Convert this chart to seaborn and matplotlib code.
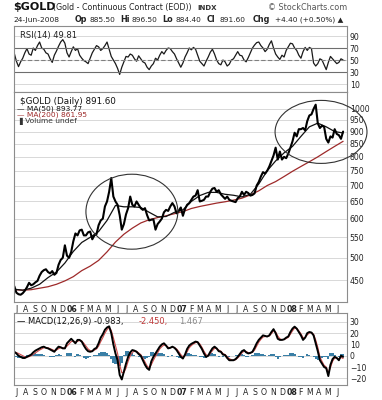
import pandas as pd
import matplotlib
matplotlib.use('Agg')
import matplotlib.pyplot as plt
import seaborn as sns
from matplotlib.patches import Ellipse

# weekly closes (Jun 2005 - Jun 2008)
price = [438,
         425, 422, 421, 424, 429, 436, 445, 440, 442, 446, 449, 460, 468, 472,
         474, 468, 465, 470, 462, 466, 484, 495, 500, 530, 505, 500, 514,
         540, 560, 555, 568, 570, 555, 555, 563, 565, 545, 555, 558, 582,
         595, 600, 635, 650, 680, 725, 665, 650, 640, 610, 570, 585, 612,
         630, 665, 640, 635, 650, 640, 630, 625, 630, 610, 595, 597, 598,
         570, 585, 592, 600, 618, 625, 622, 635, 645, 635, 615, 622, 632,
         608, 628, 640, 645, 655, 665, 668, 685, 650, 652, 655, 665, 665,
         680, 690, 692, 680, 685, 672, 665, 658, 665, 655, 652, 650, 648,
         660, 665, 680, 670, 680, 676, 668, 670, 675, 700, 712, 730, 745,
         740, 750, 765, 785, 805, 835, 790, 820, 790, 800, 795, 812, 835,
         860, 895, 880, 910, 910, 915, 905, 945, 970, 975, 1000, 1020, 935,
         915, 925, 920, 870, 855, 880, 875, 910, 890, 885, 870, 900]

# moving averages, one reading every 4 weeks
ma50 = [432, 430, 434, 442, 456, 468, 488, 515, 537, 550, 565, 595, 638, 634,
        634, 632, 618, 605, 606, 618, 625, 650, 668, 678, 678, 672, 669, 664,
        672, 705, 750, 785, 815, 840, 880, 920, 936, 920, 900, 894]
ma200 = [431, 430, 431, 434, 437, 442, 449, 458, 471, 481, 494, 514, 538, 558,
         574, 588, 597, 603, 608, 614, 620, 629, 635, 640, 645, 649, 654, 660,
         670, 683, 700, 713, 730, 748, 765, 782, 800, 820, 840, 860]

rsi = [61, 48, 39, 47, 53, 62, 69, 60, 58, 70, 66, 74, 80, 70, 68, 62, 60, 52,
       46, 58, 65, 73, 80, 84, 78, 62, 55, 64, 72, 66, 69, 58, 53, 49, 47, 44,
       53, 62, 68, 74, 72, 66, 69, 74, 80, 68, 56, 50, 44, 36, 26, 38, 47, 56,
       55, 60, 58, 52, 48, 57, 52, 47, 45, 38, 34, 40, 44, 53, 50, 58, 64, 60,
       66, 70, 69, 64, 60, 52, 45, 38, 45, 55, 62, 70, 67, 71, 68, 58, 48, 44,
       40, 48, 55, 63, 68, 60, 50, 44, 42, 50, 47, 40, 43, 50, 52, 58, 64, 58,
       57, 50, 47, 54, 62, 70, 75, 79, 80, 74, 70, 64, 68, 76, 82, 70, 60, 55,
       51, 58, 55, 66, 72, 78, 77, 70, 66, 58, 53, 64, 71, 66, 71, 69, 45, 40,
       44, 52, 50, 42, 34, 46, 56, 52, 48, 44, 46, 52, 50]

macd = [3.5, 2, 0, -1, -2, -2, -1, 0, 1, 3, 4.5, 5.5, 6.5, 7.5, 8, 7, 6.5, 5.5,
        4.5, 3.5, 6, 8, 7.5, 6.5, 6.5, 11, 13, 15, 13, 11, 14, 14, 12.5, 9, 6,
        4, 3.5, 4, 6, 7, 11, 16, 19, 23, 25, 26, 20, 10, 2, -4, -17, -21, -14,
        -7, -1, 3, 5, 4.5, 3.5, 1.5, 0, -4, -8, -11, -12.5, -5, -1, 2, 5, 8,
        10, 11, 9, 6.5, 7, 8, 7, 5, 2, -1, -2.5, 1, 6, 9, 10.5, 11.5, 12.5, 12,
        9, 6, 2, -1, 0, 3.5, 6.5, 8, 6.5, 4, 3.5, 1, 0.6, -2, -4, -4, -4, -3,
        -1, 1.5, 4, 5, 3, 2, 2.5, 3.5, 7, 11, 14, 16, 18, 17.5, 17, 18, 21,
        23.5, 20, 15, 14, 14, 14.5, 16, 17, 21, 24, 25.7, 24, 21, 18, 14, 16,
        20, 21, 20.5, 18, 11, 4, -4, -7, -10, -11, -18, -8, -3, -1, -2, -4, 0,
        -1]
signal = [3, 2.8, 2, 1, 0, -1, -1.2, -0.8, 0, 1.2, 2.5, 3.8, 5, 6, 7, 7.2, 7,
          6.3, 5.5, 4.5, 5, 6.2, 7, 7, 6.8, 8.5, 10.5, 12.5, 13, 12, 12.8, 13.5,
          13, 11, 8.5, 6, 4.5, 4, 5, 6, 8.5, 12.5, 16, 20, 23, 25, 22.5, 16, 9,
          2, -8, -15, -15, -11, -5, 0, 3, 4, 4, 2.5, 1, -2, -5.5, -9, -11, -8,
          -4, -0.5, 2.5, 6, 8, 9.5, 9, 7.5, 7, 7.5, 7.2, 6, 3.8, 1, -1, 0, 3.5,
          7, 9, 10.5, 11.5, 12, 10.5, 7.5, 4, 1, 0, 2, 4.5, 6.5, 6.5, 5, 4, 2,
          1, -0.8, -2.5, -3.5, -4, -3.5, -2, 0, 2.5, 4, 3.8, 2.8, 2.5, 3, 5,
          8.5, 12, 14.5, 16.5, 17, 17, 17.5, 19.5, 22, 21, 17.5, 15, 14.2, 14.3,
          15.2, 16.3, 19, 22, 24.5, 24.2, 22, 19.5, 16, 16, 18.5, 20, 20.5, 19,
          14, 7.5, -1, -5, -8.5, -10, -15, -10.5, -5, -2, -2, -3, -1.5, -2.45]
hist = [0.5, -0.8, -2, -2, -2, -1, 0.2, 0.8, 1, 1.8, 2, 1.7, 1.5, 1.5, 1,
        -0.2, -0.5, -0.8, -1, -1, 1, 1.8, 0.5, -0.5, -0.3, 2.5, 2.5, 2.5, 0,
        -1, 1.2, 0.5, -0.5, -2, -2.5, -2, -1, 0, 1, 1, 2.5, 3.5, 3, 3, 2, 1,
        -2.5, -6, -7, -6, -9, -6, 1, 4, 4, 3, 2, 0.5, -0.5, -1, -1, -2, -2.5,
        -2, -1.5, 3, 3, 2.5, 2.5, 2, 2, 1.5, 0, -1, 0, 0.5, -0.2, -1, -1.8, -2,
        -1.5, 1, 2.5, 2, 1.5, 1, 1, 0, -1.5, -1.5, -2, -2, 0, 1.5, 2, 1.5, 0,
        -1, -0.5, -1, -0.4, -1.2, -1.5, -0.5, 0, 0.5, 1, 1.5, 1.5, 1, -0.8,
        -0.8, 0, 0.5, 2, 2.5, 2, 1.5, 1.5, 0.5, 0, 0.5, 1.5, 1.5, -1, -2.5, -1,
        -0.2, 0.2, 0.8, 0.7, 2, 2, 1.2, -0.2, -1, -1.5, -2, 0, 1.5, 1, 0, -1,
        -3, -3.5, -3, -2, -1.5, -1, -3, 2.5, 2, 1, 0, -1, 1.5, 1.5]

price_ticks = [450, 500, 550, 600, 650, 700, 750, 800, 850, 900, 950, 1000]
rsi_ticks = [90, 70, 50, 30, 10]
macd_ticks = [30, 20, 10, 0, -10, -20]
month_letters = 'JFMAMJJASOND'

sns.set_style('white')
plt.rcParams['font.family'] = ['DejaVu Sans']

weeks = pd.date_range('2005-06-24', periods=len(price), freq='W-FRI')
df_price = pd.DataFrame({'date': weeks, 'close': price})
ma_dates = weeks[::4][:len(ma50)]
df_ma = pd.DataFrame({'date': ma_dates, 'ma50': ma50, 'ma200': ma200})
df_rsi = pd.DataFrame({'date': weeks[:len(rsi)], 'rsi': rsi})
df_macd = pd.DataFrame({'date': weeks[:len(macd)], 'macd': macd,
                        'signal': signal[:len(macd)], 'hist': hist[:len(macd)]})

months = pd.date_range('2005-07-01', '2008-06-01', freq='MS')
month_labels = ['%02d' % (m.year % 100) if m.month == 1 else month_letters[m.month - 1]
                for m in months]
quarters = pd.date_range('2005-10-01', '2008-04-01', freq='QS')
xmin, xmax = pd.Timestamp('2005-06-23'), pd.Timestamp('2008-07-03')

fig = plt.figure(figsize=(3.82, 4.0), dpi=100)
W, H = 382, 400
L, R = 14, 347


def add_panel(top, bottom):
    return fig.add_axes([L / W, 1 - bottom / H, (R - L) / W, (bottom - top) / H])


ax_rsi = add_panel(26, 92)
ax_p = add_panel(92, 302)
ax_m = add_panel(313, 385)

grid_c = '#d8d8d8'
for ax in (ax_rsi, ax_p, ax_m):
    ax.set_xlim(xmin, xmax)
    ax.set_xticks(months)
    ax.set_xticks(quarters, minor=True)
    ax.grid(which='minor', axis='x', color=grid_c, lw=0.7)
    ax.grid(which='major', axis='y', color=grid_c, lw=0.7)
    ax.grid(which='major', axis='x', visible=False)
    ax.yaxis.tick_right()
    ax.tick_params(which='both', length=0, labelsize=5.6, pad=2, colors='#222222')
    for s in ax.spines.values():
        s.set_color('#8c8c8c')
        s.set_linewidth(0.8)

# RSI panel
sns.lineplot(data=df_rsi, x='date', y='rsi', ax=ax_rsi, color='#1a1a1a', lw=0.9)
ax_rsi.axhline(70, color='#6e6e6e', lw=0.8)
ax_rsi.axhline(30, color='#6e6e6e', lw=0.8)
ax_rsi.axhline(50, color='#808080', lw=0.8, ls=(0, (4, 2)))
ax_rsi.set_ylim(-3.3, 106.7)
ax_rsi.set_yticks(rsi_ticks)
ax_rsi.set_xticklabels([])
ax_rsi.set_xlabel('')
ax_rsi.set_ylabel('')
ax_rsi.text(0.018, 0.93, 'RSI(14) 49.81', transform=ax_rsi.transAxes, fontsize=6,
            va='top', ha='left', color='#222222')

# price panel
ax_p.set_yscale('log')
sns.lineplot(data=df_ma, x='date', y='ma200', ax=ax_p, color='#9e2a2a', lw=0.9)
sns.lineplot(data=df_ma, x='date', y='ma50', ax=ax_p, color='#111111', lw=0.9)
sns.lineplot(data=df_price, x='date', y='close', ax=ax_p, color='#000000', lw=1.5)
ax_p.set_ylim(407, 1082)
ax_p.set_yticks(price_ticks)
ax_p.set_yticklabels([str(t) for t in price_ticks])
ax_p.yaxis.set_minor_locator(matplotlib.ticker.NullLocator())
ax_p.set_xticks(quarters, minor=True)
ax_p.grid(which='minor', axis='x', color=grid_c, lw=0.7)
ax_p.set_xticklabels(month_labels)
ax_p.set_xlabel('')
ax_p.set_ylabel('')
ax_p.text(0.018, 0.975, '$GOLD (Daily) 891.60', transform=ax_p.transAxes, fontsize=6.3,
          va='top', color='#111111')
ax_p.text(0.01, 0.935, '\u2014 MA(50) 893.77', transform=ax_p.transAxes, fontsize=5.4,
          va='top', color='#111111')
ax_p.text(0.01, 0.905, '\u2014 MA(200) 861.95', transform=ax_p.transAxes, fontsize=5.4,
          va='top', color='#9e2a2a')
ax_p.text(0.01, 0.875, '\u2590 Volume undef', transform=ax_p.transAxes, fontsize=5.4,
          va='top', color='#333333')
for (cx, cy, ew, eh) in [(0.354, 0.43, 0.276, 0.357), (0.922, 0.81, 0.276, 0.30)]:
    ax_p.add_patch(Ellipse((cx, cy), ew, eh, transform=ax_p.transAxes, fill=False,
                           ec='#333333', lw=0.8, clip_on=False, zorder=5))

# MACD panel
ax_m.bar(df_macd['date'], df_macd['hist'], width=7, color='#3a7fa6', lw=0)
sns.lineplot(data=df_macd, x='date', y='signal', ax=ax_m, color='#d04a4a', lw=0.8)
sns.lineplot(data=df_macd, x='date', y='macd', ax=ax_m, color='#000000', lw=1.4)
ax_m.set_ylim(-25.9, 37.8)
ax_m.set_yticks(macd_ticks)
ax_m.set_xticklabels(month_labels)
ax_m.set_xlabel('')
ax_m.set_ylabel('')
ax_m.text(0.01, 0.95, '\u2014 MACD(12,26,9) -0.983,', transform=ax_m.transAxes, fontsize=6,
          va='top', color='#111111')
ax_m.text(0.375, 0.95, '-2.450,', transform=ax_m.transAxes, fontsize=6, va='top', color='#c03a3a')
ax_m.text(0.495, 0.95, '1.467', transform=ax_m.transAxes, fontsize=6, va='top', color='#8a8a8a')

for ax in (ax_p, ax_m):
    for lab in ax.get_xticklabels():
        if lab.get_text().isdigit():
            lab.set_fontweight('bold')


# header
def ftext(x, y, s, **kw):
    fig.text(x / W, 1 - y / H, s, va='center', ha='left', **kw)


ftext(13, 7, '$GOLD', fontsize=8, fontweight='bold', color='#111111')
ftext(53, 7.5, '(Gold - Continuous Contract (EOD))', fontsize=5.7, color='#222222')
ftext(197, 7.5, 'INDX', fontsize=5, fontweight='bold', color='#333333')
ftext(268, 7.5, '\u00a9 StockCharts.com', fontsize=5.8, color='#555555')
ftext(13, 20, '24-Jun-2008', fontsize=5.4, color='#222222')
for x, s, bold in [(75, 'Op', True), (90, '885.50', False), (120, 'Hi', True),
                   (131, '896.50', False), (162, 'Lo', True), (176, '884.40', False),
                   (207, 'Cl', True), (219, '891.60', False), (253, 'Chg', True),
                   (275, '+4.40 (+0.50%) \u25b2', False)]:
    ftext(x, 20, s, fontsize=5.8 if bold else 5.3,
          fontweight='bold' if bold else 'normal', color='#222222')

fig.savefig('out.png', dpi=100)
